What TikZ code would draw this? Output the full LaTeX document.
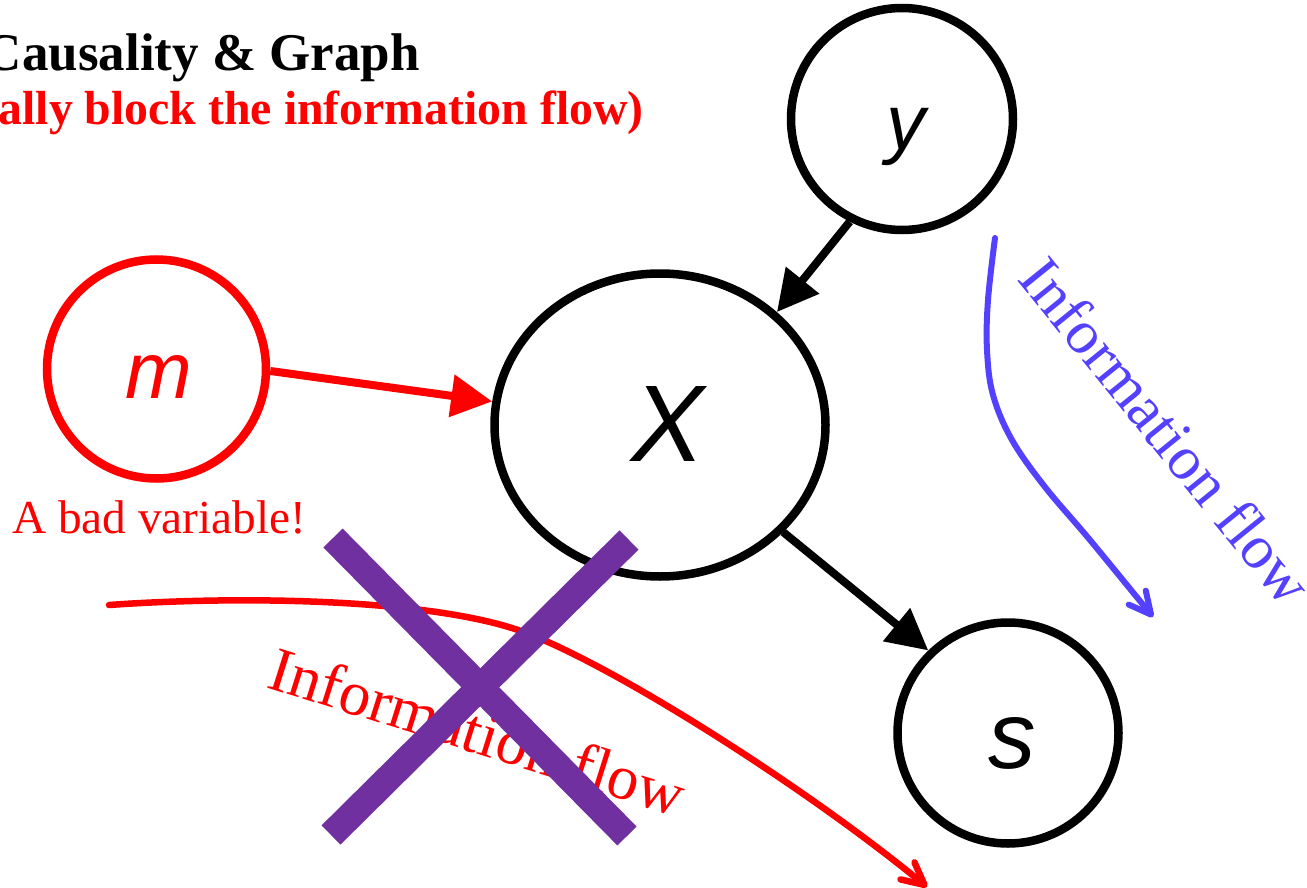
\documentclass[tikz,border=0pt]{standalone}
\usepackage{fontspec}
\setmainfont{Liberation Serif}
\newfontfamily\lsans{Liberation Sans}
\usetikzlibrary{arrows.meta,shapes.geometric}
\definecolor{myred}{RGB}{255,0,0}
\definecolor{myblue}{RGB}{84,64,255}
\definecolor{mypurple}{RGB}{112,48,160}
\begin{document}
\begin{tikzpicture}[x=1pt,y=-1pt,
  var/.style={circle, draw, line width=8.5pt, inner sep=0pt, minimum size=221pt},
  varlab/.style={inner sep=0pt, font=\lsans\itshape\fontsize{#1}{#1}\selectfont},
  edge/.style={line width=8pt, -{Triangle[length=41pt,width=41pt]}},
  flow/.style={line width=6.5pt, line cap=round, line join=round, -{Straight Barb[length=22pt,width=22pt,round]}},
  crossbar/.style={line width=27pt, mypurple},
]
\useasboundingbox (0,0) rectangle (1307,888);

% titles
\node[inner sep=0pt, anchor=base east, font=\bfseries\fontsize{53}{53}\selectfont] (title) at (420,71) {Causality \& Graph};
\node[inner sep=0pt, anchor=base east, text=myred, font=\bfseries\fontsize{47.8}{47.8}\selectfont] (sub) at (644,125) {ally block the information flow)};

% variables
\node[var, draw=myred, minimum size=219pt] (m) at (156.5,369) {};
\node[var, ellipse, minimum width=331pt, minimum height=303pt] (X) at (660,425) {};
\node[var, minimum size=222pt] (y) at (902,119) {};
\node[var] (s) at (1008,733) {};

\node[varlab=80, text=myred] (mlab) at (159,377) {m};
\node[varlab=109] (Xlab) at (668,424) {X};
\node[varlab=78] (ylab) at (906,137) {y};
\node[varlab=95] (slab) at (1012,743) {s};

% edges
\draw[edge] (y.243.4) -- (X.44.3);
\draw[edge, color=myred] (m.-1.5) -- (X.172);
\draw[edge] (X.-41.7) -- (s.134.6);

% labels
\node[inner sep=0pt, anchor=base west, text=myred, font=\fontsize{47.3}{47.3}\selectfont] (bad) at (12,533) {A bad variable!};

% red information flow
\coordinate (r0) at (109,605);
\coordinate (r1) at (518,630);
\coordinate (r2) at (927,887);
\draw[flow, myred] (r0) .. controls (250,595) and (430,600) .. (r1)
  .. controls (606,660) and (807,788) .. (r2);
\node[inner sep=0pt, anchor=base west, rotate=-17.5, text=myred, font=\fontsize{63}{63}\selectfont] (rflow) at (265,687) {Information flow};

% blue information flow
\draw[flow, myblue, line width=6pt] plot[smooth, tension=0.6] coordinates {(995,238) (988,300) (987,350) (993,395) (1012,440) (1045,487) (1090,540) (1153,617)};
\node[inner sep=0pt, anchor=base west, rotate=-51, text=myblue, font=\fontsize{62}{62}\selectfont] (bflow) at (1016,279) {Information flow};

% purple cross
\coordinate (c1a) at (333,538);
\coordinate (c1b) at (627,836);
\coordinate (c2a) at (629,540);
\coordinate (c2b) at (331,835);
\draw[crossbar] (c1a) -- (c1b);
\draw[crossbar] (c2a) -- (c2b);
\end{tikzpicture}
\end{document}
